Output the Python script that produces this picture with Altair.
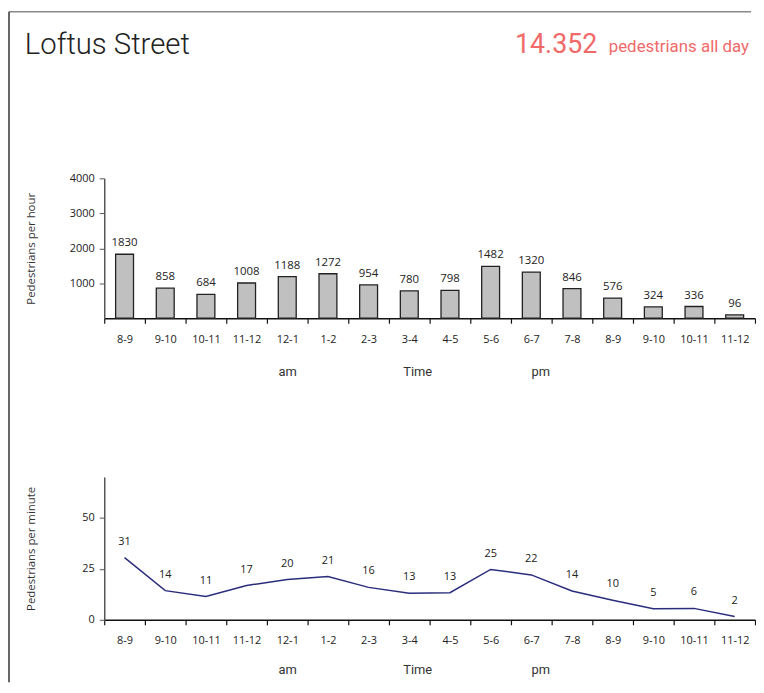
import altair as alt
import pandas as pd

# ---- data ----
hour_labels = ["8-9", "9-10", "10-11", "11-12", "12-1", "1-2", "2-3", "3-4",
               "4-5", "5-6", "6-7", "7-8", "8-9", "9-10", "10-11", "11-12"]
periods = ["am"] * 4 + ["pm"] * 12
per_hour = [1830, 858, 684, 1008, 1188, 1272, 954, 780,
            798, 1482, 1320, 846, 576, 324, 336, 96]
per_minute = [30.5, 14.3, 11.4, 16.8, 19.8, 21.2, 15.9, 13.0,
              13.3, 24.7, 22.0, 14.1, 9.6, 5.4, 5.6, 1.6]
per_minute_labels = [31, 14, 11, 17, 20, 21, 16, 13,
                     13, 25, 22, 14, 10, 5, 6, 2]
street = "Loftus Street"
total_text = "14.352"
total_caption = "pedestrians all day"

df = pd.DataFrame({
    "slot": [f"{h} {p}" for h, p in zip(hour_labels, periods)],
    "hour": per_hour,
    "minute": per_minute,
    "mlabel": per_minute_labels,
})
order = list(df["slot"])
one = pd.DataFrame({"k": [0]})

FONT = "Open Sans"
TFONT = "Roboto"
W = 656


def x_enc():
    return alt.X(
        "slot:N", sort=order,
        scale=alt.Scale(paddingInner=0, paddingOuter=0),
        axis=alt.Axis(title=None,
                      labelExpr="isValid(datum.value) ? split(datum.value, ' ')[0] : ''",
                      labelAngle=0, tickBand="extent", tickSize=5,
                      labelPadding=10, domainColor="#111", domainWidth=1.5,
                      tickColor="#111", tickWidth=1.2, labelFont=FONT,
                      labelFontSize=11, labelColor="#222", grid=False),
    )


def y_axis(title, values, ty):
    return alt.Axis(title=title, values=values, format="d", grid=False,
                    tickSize=5, labelPadding=5, domainColor="#555",
                    domainWidth=1.5, tickColor="#555", labelFont=FONT,
                    labelFontSize=11, labelColor="#222", titleFont=FONT,
                    titleFontSize=11.5, titleFontWeight="normal",
                    titleColor="#333", titleAngle=270, titleX=-73, titleY=ty,
                    titleAlign="center", titleBaseline="middle")


def period_texts():
    layers = []
    for txt, xp in [("am", 185), ("Time", 316), ("pm", 440)]:
        layers.append(
            alt.Chart(one).mark_text(font=TFONT, fontSize=13, color="#333",
                                     align="center", baseline="middle")
            .encode(x=alt.value(xp), y=alt.value(195), text=alt.value(txt))
        )
    return layers


# ---- top: pedestrians per hour ----
bars = alt.Chart(df).mark_bar(
    width=alt.RelativeBandSize(0.44), fill="#c0c0c0", stroke="#222",
    strokeWidth=1.3
).encode(
    x=x_enc(),
    y=alt.Y("hour:Q", scale=alt.Scale(domain=[0, 4000]),
            axis=y_axis("Pedestrians per hour", [1000, 2000, 3000, 4000], 70.5)),
)
bar_labels = alt.Chart(df).mark_text(
    font=FONT, fontSize=11.5, color="#222", baseline="bottom", dy=-6
).encode(x=x_enc(), y="hour:Q", text="hour:Q")

frame_top = alt.Chart(one).mark_rule(color="#888", strokeWidth=1.5).encode(
    x=alt.value(-96), x2=alt.value(652), y=alt.value(-168))
frame_left = alt.Chart(one).mark_rule(color="#333", strokeWidth=1.5).encode(
    x=alt.value(-96), y=alt.value(-168), y2=alt.value(508))

title_txt = alt.Chart(one).mark_text(
    font=TFONT, fontSize=29.5, fontWeight=300, color="#222", align="left",
    baseline="alphabetic").encode(x=alt.value(-80), y=alt.value(-125),
                                  text=alt.value(street))
total_num = alt.Chart(one).mark_text(
    font=TFONT, fontSize=27, color="#f06a6a", align="right",
    baseline="alphabetic").encode(x=alt.value(497), y=alt.value(-126),
                                  text=alt.value(total_text))
total_cap = alt.Chart(one).mark_text(
    font=TFONT, fontSize=17, color="#f06a6a", align="right",
    baseline="alphabetic").encode(x=alt.value(650), y=alt.value(-127),
                                  text=alt.value(total_caption))

top = alt.layer(bars, bar_labels, frame_top, frame_left, title_txt,
                total_num, total_cap, *period_texts()).properties(
    width=W, height=141)

# ---- bottom: pedestrians per minute ----
line = alt.Chart(df).mark_line(color="#2a2d7c", strokeWidth=1.5).encode(
    x=x_enc(),
    y=alt.Y("minute:Q", scale=alt.Scale(domain=[0, 70]),
            axis=y_axis("Pedestrians per minute", [0, 25, 50], 72)),
)
line_labels = alt.Chart(df).mark_text(
    font=FONT, fontSize=11, color="#222", baseline="bottom", dy=-11
).encode(x=x_enc(), y="minute:Q", text="mlabel:Q")

bottom = alt.layer(line, line_labels, *period_texts()).properties(
    width=W, height=144)

chart = alt.vconcat(top, bottom, spacing=160, bounds="flush").properties(
    padding=0
).configure_view(strokeWidth=0)

chart.save("out.html", embed_options={"renderer": "svg", "actions": False})
